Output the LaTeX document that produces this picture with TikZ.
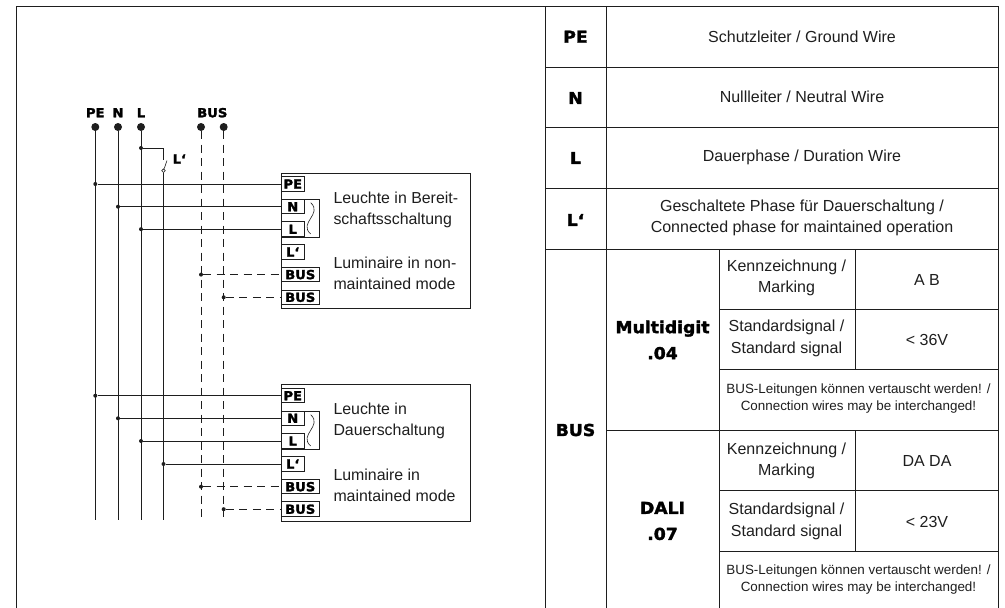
\documentclass[tikz,border=0pt]{standalone}
\usepackage{fontspec}
\setmainfont{Liberation Sans}
\newfontfamily\blk[FakeBold=2,FakeStretch=1.05]{DejaVu Sans Bold}
\usetikzlibrary{calc}
\definecolor{ink}{HTML}{1E1E1E}
\tikzset{
  x=1pt,y=-1pt,
  wire/.style={draw=ink,line width=0.9pt},
  buswire/.style={draw=ink,line width=0.9pt,dash pattern=on 8pt off 5.5pt},
  frame/.style={draw=ink,line width=1pt},
  rule/.style={draw=ink,line width=0.9pt},
  big/.style={inner sep=0,align=center,font=\fontsize{16.4}{26}\blk},
  head/.style={inner sep=0,align=center,font=\fontsize{12.5}{14}\blk},
  txt/.style={inner sep=0,align=center,font=\fontsize{16}{21.7}\selectfont,text=ink},
  small/.style={inner sep=0,align=center,font=\fontsize{13.4}{17.5}\selectfont,text=ink},
  lab/.style={inner sep=0,align=left,anchor=west,font=\fontsize{15.9}{21}\selectfont,text=ink},
  tdot/.style={circle,fill=ink,inner sep=0,minimum size=8pt},
  jdot/.style={circle,fill=ink,inner sep=0,minimum size=4pt},
  term/.style={draw=ink,line width=1pt,fill=white,inner sep=0,minimum height=14.5pt,anchor=west,font=\fontsize{12.5}{14}\blk},
  sterm/.style={term,minimum width=22.5pt},
  wterm/.style={term,minimum width=37.5pt},
  box/.style={draw=ink,line width=1.1pt,inner sep=0,anchor=north west},
}
\begin{document}
\begin{tikzpicture}
\useasboundingbox (0,0) rectangle (1005,608);
% outer frame and table rules
\draw[frame] (16,608) -- (16,6) -- (998.3,6) -- (998.3,608);
\draw[frame] (545,6) -- (545,608);
\draw[rule] (545,67) -- (998.3,67);
\draw[rule] (545,127.5) -- (998.3,127.5);
\draw[rule] (545,188.3) -- (998.3,188.3);
\draw[rule] (545,249) -- (998.3,249);
\draw[rule] (606,6) -- (606,608);
\draw[rule] (719,249) -- (719,608);
\draw[rule] (855,249) -- (855,369);
\draw[rule] (855,430) -- (855,551);
\draw[rule] (719,309) -- (998.3,309);
\draw[rule] (719,369) -- (998.3,369);
\draw[rule] (606,430) -- (998.3,430);
\draw[rule] (719,490.3) -- (998.3,490.3);
\draw[rule] (719,551) -- (998.3,551);
% table text
\node[big] (tpe) at (575.5,36.7) {PE};
\node[big] (tn) at (575.5,98) {N};
\node[big] (tl) at (575.5,158) {L};
\node[big] (tlp) at (575.5,220) {L‘};
\node[big] (tbus) at (575.5,430) {BUS};
\node[txt] (d1) at (802,36.5) {Schutzleiter / Ground Wire};
\node[txt] (d2) at (802,97) {Nullleiter / Neutral Wire};
\node[txt] (d3) at (802,157) {Dauerphase / Duration Wire};
\node[txt] (d4) at (802,218) {Geschaltete Phase für Dauerschaltung /\\Connected phase for maintained operation};
\node[big] (m4) at (662.5,340) {Multidigit\\.04};
\node[big] (m7) at (662.5,521) {DALI\\.07};
\node[txt] (k1) at (786.5,278) {Kennzeichnung /\\Marking};
\node[txt] (v1) at (927,279.5) {A B};
\node[txt] (s1) at (786.5,338.5) {Standardsignal /\\Standard signal};
\node[txt] (w1) at (927,340) {< 36V};
\node[small] (n1) at (858.5,398.5) {BUS-Leitungen können vertauscht werden! /\\Connection wires may be interchanged!};
\node[txt] (k2) at (786.5,461) {Kennzeichnung /\\Marking};
\node[txt] (v2) at (927,461) {DA DA};
\node[txt] (s2) at (786.5,521.5) {Standardsignal /\\Standard signal};
\node[txt] (w2) at (927,521.5) {< 23V};
\node[small] (n2) at (858.5,579.7) {BUS-Leitungen können vertauscht werden! /\\Connection wires may be interchanged!};
% supply dots and labels
\node[tdot] (pe) at (95.3,127) {};
\node[tdot] (n) at (118,127) {};
\node[tdot] (l) at (141,127) {};
\node[tdot] (b1) at (201,127) {};
\node[tdot] (b2) at (223.7,127) {};
\node[head] (hpe) at (95.3,112.7) {PE};
\node[head] (hn) at (118,112.7) {N};
\node[head] (hl) at (141,112.7) {L};
\node[head] (hb) at (212.3,112.7) {BUS};
\node[head,anchor=west] (hlp) at (172.5,159) {L‘};
% wire ends
\coordinate (peE) at (95.3,520);
\coordinate (nE) at (118,520);
\coordinate (lE) at (141,520);
\coordinate (lpE) at (163.5,520);
\coordinate (b1E) at (201,520);
\coordinate (b2E) at (223.7,520);
\draw[wire] (pe) -- (peE);
\draw[wire] (n) -- (nE);
\draw[wire] (l) -- (lE);
\draw[buswire] (b1) -- (b1E);
\draw[buswire] (b2) -- (b2E);
% switch
\node[jdot] (js) at (141,148) {};
\coordinate (sa) at (163.5,148);
\coordinate (sb) at (163.5,159.5);
\coordinate (st) at (167,160.5);
\node[circle,draw=ink,line width=.6pt,fill=white,inner sep=0,minimum size=3.6pt] (sc) at (163.5,170.7) {};
\draw[wire] (js) -- (sa) -- (sb);
\draw[wire,line width=.6pt] (sc) -- (st);
\draw[wire] (sc) -- (lpE);
% box 1
\node[box,minimum width=189pt,minimum height=135.3pt] (box1) at (281,172.7) {};
\node[box,minimum width=37.7pt,minimum height=38pt] (br1) at (281,199) {};
\node[sterm] (t1pe) at (281,184) {PE};
\node[sterm] (t1n) at (281,206.7) {N};
\node[sterm] (t1l) at (281,229.2) {L};
\node[sterm] (t1lp) at (281,252) {L‘};
\node[wterm] (t1b1) at (281,274.6) {BUS};
\node[wterm] (t1b2) at (281,297.3) {BUS};
\draw[line width=.6pt,draw=ink] (310.7,202.7) .. controls (323,214) and (298,223) .. (310.7,234);
\node[lab] (lab1a) at (333.3,209.5) {Leuchte in Bereit-\\schaftsschaltung};
\node[lab] (lab1b) at (333.3,273) {Luminaire in non-\\maintained mode};
\node[jdot] (j1pe) at (95.3,184) {};
\node[jdot] (j1n) at (118,206.7) {};
\node[jdot] (j1l) at (141,229.2) {};
\node[jdot] (j1b1) at (201,274.6) {};
\node[jdot] (j1b2) at (223.7,297.3) {};
\draw[wire] (j1pe) -- (t1pe.west);
\draw[wire] (j1n) -- (t1n.west);
\draw[wire] (j1l) -- (t1l.west);
\draw[buswire] (j1b1) -- (t1b1.west);
\draw[buswire] (j1b2) -- (t1b2.west);
% box 2
\node[box,minimum width=189pt,minimum height=136.4pt] (box2) at (281,384.3) {};
\node[box,minimum width=37.7pt,minimum height=38pt] (br2) at (281,411) {};
\node[sterm] (t2pe) at (281,395.7) {PE};
\node[sterm] (t2n) at (281,418.3) {N};
\node[sterm] (t2l) at (281,441) {L};
\node[sterm] (t2lp) at (281,464) {L‘};
\node[wterm] (t2b1) at (281,486.7) {BUS};
\node[wterm] (t2b2) at (281,509.2) {BUS};
\draw[line width=.6pt,draw=ink] (310.7,414.7) .. controls (323,426) and (298,435) .. (310.7,446);
\node[lab] (lab2a) at (333.3,421) {Leuchte in\\Dauerschaltung};
\node[lab] (lab2b) at (333.3,485) {Luminaire in\\maintained mode};
\node[jdot] (j2pe) at (95.3,395.7) {};
\node[jdot] (j2n) at (118,418.3) {};
\node[jdot] (j2l) at (141,441) {};
\node[jdot] (j2lp) at (163.5,464) {};
\node[jdot] (j2b1) at (201,486.7) {};
\node[jdot] (j2b2) at (223.7,509.2) {};
\draw[wire] (j2pe) -- (t2pe.west);
\draw[wire] (j2n) -- (t2n.west);
\draw[wire] (j2l) -- (t2l.west);
\draw[wire] (j2lp) -- (t2lp.west);
\draw[buswire] (j2b1) -- (t2b1.west);
\draw[buswire] (j2b2) -- (t2b2.west);
\end{tikzpicture}
\end{document}
